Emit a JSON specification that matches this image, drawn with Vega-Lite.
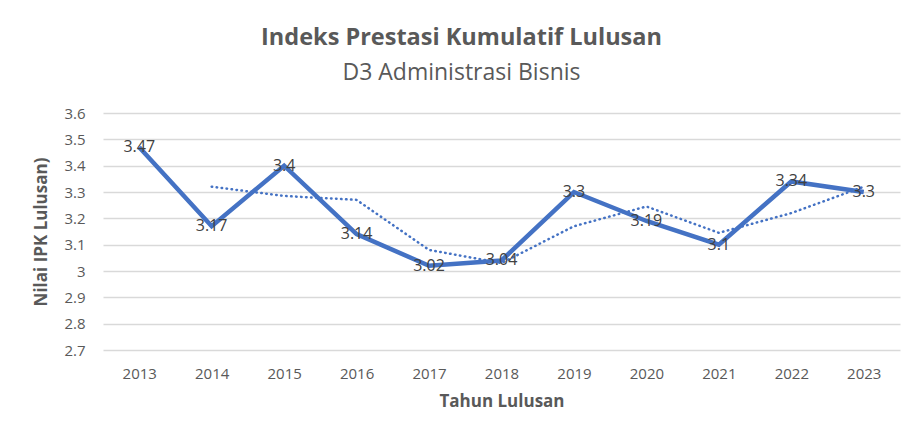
{
  "$schema": "https://vega.github.io/schema/vega-lite/v6.json",
  "description": "Indeks Prestasi Kumulatif Lulusan D3 Administrasi Bisnis",
  "autosize": {"type": "none"},
  "width": 797,
  "height": 237,
  "padding": {"left": 103, "top": 113, "right": 24, "bottom": 96},
  "background": "white",
  "title": {
    "text": "Indeks Prestasi Kumulatif Lulusan",
    "subtitle": "D3 Administrasi Bisnis",
    "anchor": "middle",
    "frame": "group",
    "dx": -40,
    "offset": 21,
    "font": "Open Sans",
    "fontSize": 23.5,
    "fontWeight": "bold",
    "color": "#595959",
    "subtitleFont": "Open Sans",
    "subtitleFontSize": 23,
    "subtitleColor": "#595959",
    "subtitlePadding": 13
  },
  "data": {
    "values": [
      {"tahun": "2013", "ipk": 3.47, "trend": null},
      {"tahun": "2014", "ipk": 3.17, "trend": 3.32},
      {"tahun": "2015", "ipk": 3.4, "trend": 3.285},
      {"tahun": "2016", "ipk": 3.14, "trend": 3.27},
      {"tahun": "2017", "ipk": 3.02, "trend": 3.08},
      {"tahun": "2018", "ipk": 3.04, "trend": 3.03},
      {"tahun": "2019", "ipk": 3.3, "trend": 3.17},
      {"tahun": "2020", "ipk": 3.19, "trend": 3.245},
      {"tahun": "2021", "ipk": 3.1, "trend": 3.145},
      {"tahun": "2022", "ipk": 3.34, "trend": 3.22},
      {"tahun": "2023", "ipk": 3.3, "trend": 3.32}
    ]
  },
  "encoding": {
    "x": {
      "field": "tahun",
      "type": "ordinal",
      "title": "Tahun Lulusan",
      "scale": {"type": "point", "padding": 0.5},
      "axis": {
        "labelAngle": 0,
        "domain": false,
        "ticks": false,
        "labelPadding": 16,
        "labelFont": "Open Sans",
        "labelFontSize": 15,
        "labelColor": "#595959",
        "titleFont": "Open Sans",
        "titleFontSize": 17,
        "titleFontWeight": "bold",
        "titleColor": "#595959",
        "titlePadding": 12
      }
    },
    "y": {
      "field": "ipk",
      "type": "quantitative",
      "title": "Nilai IPK Lulusan)",
      "scale": {"domain": [2.7, 3.6], "nice": false, "zero": false},
      "axis": {
        "values": [2.7, 2.8, 2.9, 3, 3.1, 3.2, 3.3, 3.4, 3.5, 3.6],
        "format": "~g",
        "labelOverlap": false,
        "domain": false,
        "ticks": false,
        "labelPadding": 18,
        "labelFont": "Open Sans",
        "labelFontSize": 15,
        "labelColor": "#595959",
        "gridColor": "#d9d9d9",
        "gridWidth": 1.3,
        "titleFont": "Open Sans",
        "titleFontSize": 17,
        "titleFontWeight": "bold",
        "titleColor": "#595959",
        "titlePadding": 13
      }
    }
  },
  "layer": [
    {
      "mark": {"type": "line", "color": "#4472C4", "strokeWidth": 2.5, "strokeDash": [0.5, 4.5], "strokeCap": "round"},
      "encoding": {
        "y": {"field": "trend", "type": "quantitative"}
      }
    },
    {
      "mark": {"type": "line", "color": "#4472C4", "strokeWidth": 4.5},
      "encoding": {}
    },
    {
      "mark": {"type": "text", "font": "Open Sans", "fontSize": 16, "color": "#404040", "baseline": "middle", "align": "center"},
      "encoding": {
        "text": {"field": "ipk", "type": "quantitative"}
      }
    }
  ],
  "config": {"view": {"stroke": null}}
}
